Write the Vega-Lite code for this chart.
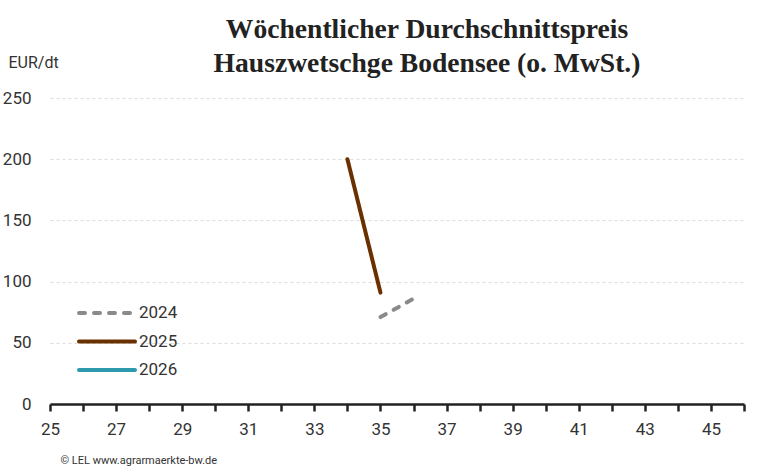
{
  "$schema": "https://vega.github.io/schema/vega-lite/v6.json",
  "autosize": "none",
  "width": 694,
  "height": 306,
  "padding": {"left": 50, "top": 98, "right": 25, "bottom": 69},
  "background": "white",
  "title": {
    "text": ["Wöchentlicher Durchschnittspreis", "Hauszwetschge Bodensee (o. MwSt.)"],
    "font": "Liberation Serif",
    "fontSize": 27.6,
    "fontWeight": "bold",
    "color": "#222222",
    "anchor": "middle",
    "dx": 30,
    "offset": -24,
    "lineHeight": 34
  },
  "config": {
    "view": {"stroke": null},
    "font": "Roboto",
    "axis": {"labelColor": "#333333", "labelFontSize": 17, "labelFont": "Roboto"}
  },
  "data": {
    "values": [
      {"Jahr": "2024", "KW": 35, "Preis": 71},
      {"Jahr": "2024", "KW": 36, "Preis": 86},
      {"Jahr": "2025", "KW": 34, "Preis": 200},
      {"Jahr": "2025", "KW": 35, "Preis": 91}
    ]
  },
  "mark": {"type": "line", "strokeWidth": 4, "strokeCap": "round"},
  "encoding": {
    "x": {
      "field": "KW",
      "type": "quantitative",
      "scale": {"domain": [25, 46], "nice": false, "zero": false},
      "axis": {
        "values": [25, 26, 27, 28, 29, 30, 31, 32, 33, 34, 35, 36, 37, 38, 39, 40, 41, 42, 43, 44, 45, 46],
        "labelExpr": "datum.value % 2 == 1 ? datum.label : ''",
        "labelFlush": false,
        "labelOverlap": false,
        "grid": false,
        "domainColor": "#222222",
        "domainWidth": 2.5,
        "tickColor": "#222222",
        "tickWidth": 2.5,
        "tickSize": 7,
        "labelPadding": 10,
        "title": "© LEL www.agrarmaerkte-bw.de",
        "titleFont": "Roboto",
        "titleFontSize": 11,
        "titleFontWeight": "normal",
        "titleColor": "#333333",
        "titleAnchor": "start",
        "titleAlign": "left",
        "titleBaseline": "middle",
        "titleX": 10,
        "titleY": 56
      }
    },
    "y": {
      "field": "Preis",
      "type": "quantitative",
      "scale": {"domain": [0, 250], "nice": false},
      "axis": {
        "values": [0, 50, 100, 150, 200, 250],
        "domain": false,
        "ticks": false,
        "labelPadding": 19,
        "gridColor": "#dddddd",
        "gridDash": [3, 3],
        "gridWidth": 1,
        "title": "EUR/dt",
        "titleFont": "Roboto",
        "titleFontSize": 16,
        "titleFontWeight": "normal",
        "titleColor": "#333333",
        "titleAngle": 0,
        "titleAlign": "left",
        "titleBaseline": "middle",
        "titleX": -42,
        "titleY": -36
      }
    },
    "color": {
      "field": "Jahr",
      "type": "nominal",
      "scale": {"domain": ["2024", "2025", "2026"], "range": ["#8a8a8a", "#6b3000", "#2e9aae"]},
      "legend": {
        "title": null,
        "orient": "none",
        "legendX": 41,
        "legendY": 199,
        "symbolType": "M-2,0H2",
        "symbolSize": 784,
        "symbolStrokeWidth": 4,
        "labelFontSize": 17,
        "labelColor": "#333333",
        "labelFont": "Roboto",
        "labelOffset": 16,
        "rowPadding": 4.5,
        "encode": {"symbols": {"update": {"strokeCap": {"value": "round"}}}}
      }
    },
    "strokeDash": {
      "field": "Jahr",
      "type": "nominal",
      "scale": {"domain": ["2024", "2025", "2026"], "range": [[6, 9], [1, 0], [1, 0]]},
      "legend": {
        "title": null,
        "orient": "none",
        "legendX": 41,
        "legendY": 199,
        "symbolType": "M-2,0H2",
        "symbolSize": 784,
        "symbolStrokeWidth": 4,
        "labelFontSize": 17,
        "labelColor": "#333333",
        "labelFont": "Roboto",
        "labelOffset": 16,
        "rowPadding": 4.5,
        "encode": {"symbols": {"update": {"strokeCap": {"value": "round"}}}}
      }
    }
  }
}
